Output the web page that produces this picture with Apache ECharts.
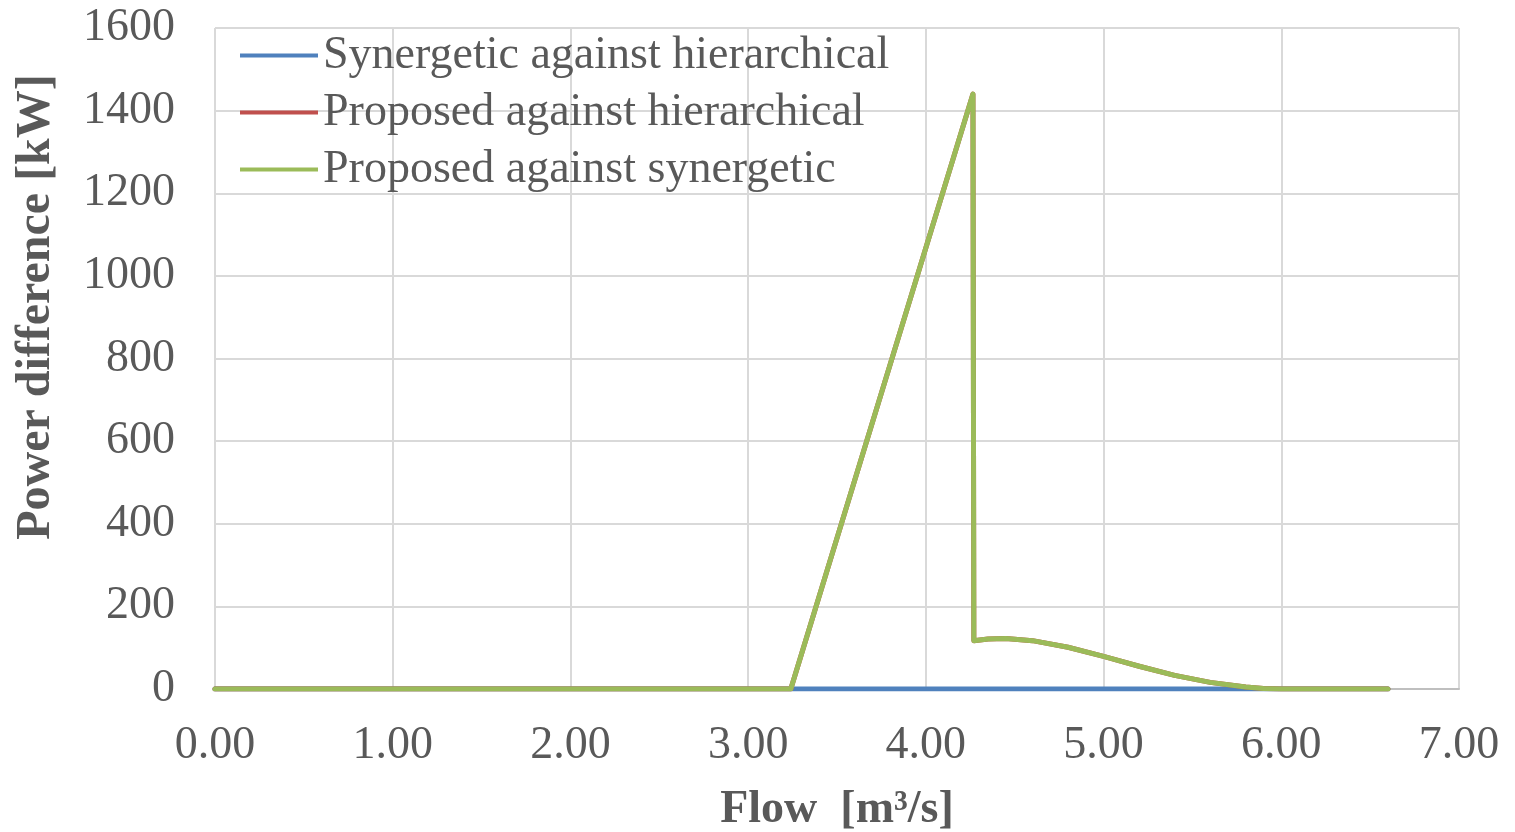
<!DOCTYPE html>
<html>
<head>
<meta charset="utf-8">
<script src="https://cdn.jsdelivr.net/npm/echarts@6/dist/echarts.min.js"></script>
<style>
  html, body { margin: 0; padding: 0; background: #fff; }
  #chart { width: 1515px; height: 832px; }
</style>
</head>
<body>
<div id="chart"></div>
<script>
// flow [m3/s] and power difference [kW]
var seriesNames = ['Synergetic against hierarchical', 'Proposed against hierarchical', 'Proposed against synergetic']
var flowSyn = [0, 3.24, 4.27, 5.0, 6.6]
var powerSyn = [0, 0, 0, 0, 0]
var flowProp = [0, 3.24, 4.265, 4.27, 4.35, 4.45, 4.6, 4.8, 5.0, 5.2, 5.4, 5.6, 5.8, 5.9, 6.0, 6.6]
var powerProp = [0, 0, 1440, 117, 121, 122, 117, 101, 79, 55, 33, 16, 5, 1, 0, 0]
var colors = ['#4f81bd', '#c0504d', '#9bbb59']

function pairs (xs, ys) {
  return xs.map(function (x, i) { return [x, ys[i]] })
}

var font = 'Liberation Serif'
var lineData = [pairs(flowSyn, powerSyn), pairs(flowProp, powerProp), pairs(flowProp, powerProp)]

var option = {
  animation: false,
  color: colors,
  grid: { left: 215, right: 56, top: 28, bottom: 143, outerBoundsMode: 'none', containLabel: false },
  legend: {
    orient: 'vertical',
    left: 240,
    top: 27,
    padding: 0,
    icon: 'rect',
    itemWidth: 78,
    itemHeight: 4,
    itemGap: 0,
    textStyle: { fontFamily: font, fontSize: 46, color: '#595959', lineHeight: 57 },
    data: seriesNames
  },
  xAxis: {
    type: 'value',
    min: 0,
    max: 7,
    interval: 1,
    name: 'Flow  [m\u00b3/s]',
    nameLocation: 'middle',
    nameGap: 98,
    nameTextStyle: { fontFamily: font, fontSize: 46, fontWeight: 'bold', color: '#595959' },
    axisLine: { show: true, onZero: false, lineStyle: { color: '#bfbfbf', width: 2 } },
    axisTick: { show: false },
    axisLabel: {
      fontFamily: font, fontSize: 46, color: '#595959', margin: 34,
      formatter: function (v) { return v.toFixed(2) }
    },
    splitLine: { show: true, lineStyle: { color: '#d9d9d9', width: 2 } }
  },
  yAxis: {
    type: 'value',
    min: 0,
    max: 1600,
    interval: 200,
    axisLine: { show: false },
    axisTick: { show: false },
    axisLabel: {
      fontFamily: font, fontSize: 46, color: '#595959', margin: 40,
      formatter: function (v) { return String(v) }
    },
    splitLine: { show: true, lineStyle: { color: '#d9d9d9', width: 2 } }
  },
  graphic: [
    {
      type: 'text',
      x: 37,
      y: 307,
      rotation: Math.PI / 2,
      style: {
        text: 'Power difference [kW]',
        fontFamily: font,
        fontSize: 48,
        fontWeight: 'bold',
        fill: '#595959',
        align: 'center',
        verticalAlign: 'middle'
      }
    }
  ],
  series: seriesNames.map(function (name, i) {
    return {
      name: name,
      type: 'line',
      symbol: 'none',
      data: lineData[i],
      lineStyle: { width: 5, cap: 'round', join: 'round' }
    }
  })
}

var chart = echarts.init(document.getElementById('chart'))
chart.setOption(option)
</script>
</body>
</html>
